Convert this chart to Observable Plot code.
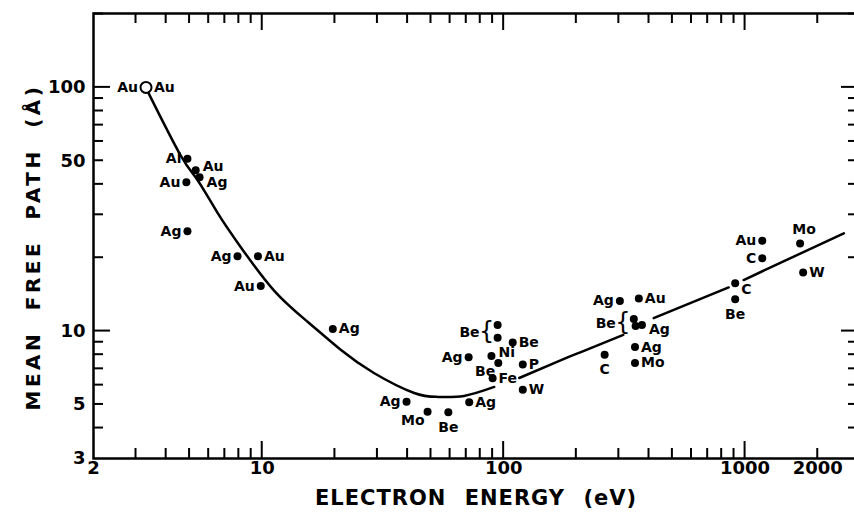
<!DOCTYPE html>
<html><head><meta charset="utf-8">
<script src="https://cdn.jsdelivr.net/npm/d3@7"></script>
<script src="https://cdn.jsdelivr.net/npm/@observablehq/plot@0.6"></script>
<style>html,body{margin:0;padding:0;background:#fff;}</style>
</head><body><div id="chart"></div>
<script>
// ---- data ----
const pointLabel  = ["Al","Au","Ag","Au","Ag","Ag","Au","Au","Ag","Ag","Mo","Be","Ag","Be","Be","Be","Ag","Ni","Be","P","Fe","W","C","Ag","Au","Be","Be","Ag","Ag","Mo","C","Be","Au","C","Mo","W"];
const pointEnergy = [4.9,5.3,5.5,4.85,4.9,7.9,9.6,9.86,19.6,39.6,48.4,59,72,94.4,94.4,109,71.6,89,95,120,90,120,262,303,363,346,352,374,350,350,910,910,1178,1178,1690,1740];
const pointPath   = [51,45.7,42.8,40.8,25.7,20.3,20.3,15.3,10.2,5.13,4.67,4.64,5.1,10.6,9.4,8.97,7.8,7.9,7.4,7.3,6.4,5.75,8.0,13.3,13.6,11.2,10.5,10.6,8.6,7.4,15.7,13.5,23.5,19.9,22.9,17.4];
const pointSide   = ["left","rightup","rightdown","left","left","left","right","left","right","left","leftbelow","below","right","none","none","right","left","rightup","leftbelow","right","right","right","below","left","right","none","none","rightdown","right","right","rightbelow","below","left","left","above","right"];

const openEnergy = [3.3];
const openPath   = [100];
const openLabel  = ["Au"];

const bracketEnergy = [94.4, 346];
const bracketPath   = [10.0, 10.85];
const bracketLabel  = ["Be", "Be"];

const curveEnergy  = [3.29,4.59,5.40,6.54,8.15,11.17,15.45,21.2,29.0,42.6,53.5,68.5,91.4, 116,173,209,313, 418,855, 986,2564];
const curvePath    = [100,52.6,41.6,30.5,22.1,14.7,10.9,8.36,6.73,5.57,5.37,5.42,5.9, 6.42,7.6,8.2,9.64, 11.3,15.1, 16.2,25.2];
const curveSegment = [1,1,1,1,1,1,1,1,1,1,1,1,1, 2,2,2,2, 3,3, 4,4];

const xTickLabels = [2,5,10,50,100,500,1000,2000];
const xMajorTicks = [10,100,1000];
const xMinorTicks = [3,4,5,6,7,8,9,20,30,40,50,60,70,80,90,200,300,400,500,600,700,800,900,2000];
const yTickLabels = [3,5,10,50,100];
const yMajorTicks = [10,100];
const yMinorTicks = [4,5,6,7,8,9,20,30,40,50,60,70,80,90,200];

const xDomain = [2, 2950];
const yDomain = [3, 201];

const xTitle = "ELECTRON ENERGY (eV)";
const yTitle = "MEAN FREE PATH (Å)";

// ---- build tables ----
const points = pointEnergy.map((e,i)=>({energy:e, path:pointPath[i], label:pointLabel[i], side:pointSide[i]}));
const curve = curveEnergy.map((e,i)=>({energy:e, path:curvePath[i], seg:curveSegment[i]}));
const opens = openEnergy.map((e,i)=>({energy:e, path:openPath[i], label:openLabel[i]}));
const brackets = bracketEnergy.map((e,i)=>({energy:e, path:bracketPath[i], label:bracketLabel[i]}));

const W = 854, H = 523, mL = 93, mR = -4, mT = 13, mB = 65;
const minorLen = 10, majorLen = 17;

const sideOpts = {
  left:       {textAnchor:"end",   dx:-6, dy:0},
  right:      {textAnchor:"start", dx:6,  dy:0},
  rightup:    {textAnchor:"start", dx:7,  dy:-4},
  rightdown:  {textAnchor:"start", dx:7,  dy:5},
  below:      {textAnchor:"middle",dx:0,  dy:15},
  above:      {textAnchor:"middle",dx:4,  dy:-14},
  leftbelow:  {textAnchor:"end",   dx:-3, dy:9},
  rightbelow: {textAnchor:"start", dx:6,  dy:6}
};
const labelFont = {fontFamily:"DejaVu Sans", fontSize:14, fontWeight:"bold", fill:"black"};
const labelMarks = Object.keys(sideOpts).map(s =>
  Plot.text(points.filter(d=>d.side===s), {x:"energy", y:"path", text:"label", ...sideOpts[s], ...labelFont}));

const chart = Plot.plot({
  width: W, height: H,
  marginLeft: mL, marginRight: mR, marginTop: mT, marginBottom: mB,
  x: {type:"log", domain:xDomain, axis:null},
  y: {type:"log", domain:yDomain, axis:null},
  style: {fontFamily:"DejaVu Sans", fontSize:"18px", background:"white", color:"black"},
  marks: [
    Plot.frame({stroke:"black", fill:"none", strokeWidth:2.5}),
    // tick labels
    Plot.axisX({anchor:"bottom", ticks:xTickLabels, tickSize:0, tickPadding:3, tickFormat:d=>String(d), label:null, fontWeight:"bold"}),
    Plot.axisY({anchor:"left", ticks:yTickLabels, tickSize:0, tickPadding:8, tickFormat:d=>String(d), label:null, fontWeight:"bold"}),
    // curve
    Plot.line(curve, {x:"energy", y:"path", z:"seg", curve:"natural", stroke:"black", strokeWidth:2.5}),
    // points
    Plot.dot(points, {x:"energy", y:"path", r:4, fill:"black", stroke:"none"}),
    Plot.dot(opens, {x:"energy", y:"path", r:5.5, fill:"white", stroke:"black", strokeWidth:2}),
    Plot.text(opens, {x:"energy", y:"path", text:"label", textAnchor:"end", dx:-8, ...labelFont}),
    Plot.text(opens, {x:"energy", y:"path", text:"label", textAnchor:"start", dx:8, ...labelFont}),
    ...labelMarks,
    // brackets
    Plot.text(brackets, {x:"energy", y:"path", text:()=>"{", textAnchor:"middle", dx:-11, fontFamily:"DejaVu Sans", fontSize:24, fill:"black"}),
    Plot.text(brackets, {x:"energy", y:"path", text:"label", textAnchor:"end", dx:-18, dy:1, ...labelFont}),
    // axis titles
    Plot.text([xTitle], {frameAnchor:"bottom", textAnchor:"middle", dx:0, dy:40, text:d=>d, fontFamily:"DejaVu Sans", fontSize:21, fontWeight:"bold", fill:"black", lineAnchor:"middle"}),
    Plot.text([yTitle], {frameAnchor:"left", textAnchor:"middle", dx:-60, dy:11, rotate:-90, text:d=>d, fontFamily:"DejaVu Sans", fontSize:20, fontWeight:"bold", fill:"black", lineAnchor:"middle"})
  ]
});
d3.select(chart).selectAll("text").each(function(){
  if (this.textContent === xTitle) d3.select(this).style("letter-spacing","1px").style("word-spacing","10px");
  if (this.textContent === yTitle) d3.select(this).style("letter-spacing","3.5px").style("word-spacing","10px");
});

// inward tick marks on all four sides, positioned through Plot's own scales
const sx = chart.scale("x"), sy = chart.scale("y");
const [xl, xr] = sx.range, [yb, yt] = sy.range;
const tg = d3.select(chart).append("g").attr("aria-label", "ticks").attr("stroke", "black").attr("stroke-width", 2);
const drawX = (vals, len) => vals.forEach(v => {
  const px = sx.apply(v);
  tg.append("line").attr("x1", px).attr("x2", px).attr("y1", yb).attr("y2", yb - len);
  tg.append("line").attr("x1", px).attr("x2", px).attr("y1", yt).attr("y2", yt + len);
});
const drawY = (vals, len) => vals.forEach(v => {
  const py = sy.apply(v);
  tg.append("line").attr("y1", py).attr("y2", py).attr("x1", xl).attr("x2", xl + len);
  tg.append("line").attr("y1", py).attr("y2", py).attr("x1", xr).attr("x2", xr - len);
});
drawX(xMinorTicks, minorLen); drawX(xMajorTicks, majorLen);
drawY(yMinorTicks, minorLen); drawY(yMajorTicks, majorLen);

document.getElementById("chart").appendChild(chart);
</script>
</body></html>
